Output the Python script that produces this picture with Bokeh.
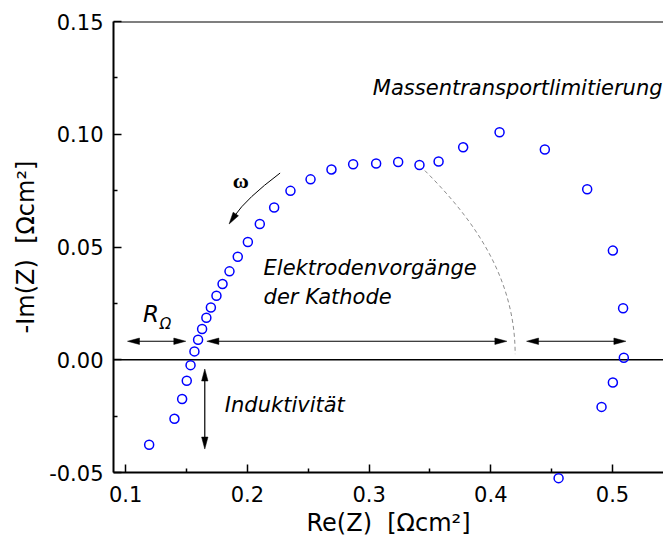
import numpy as np
from bokeh.plotting import figure
from bokeh.models import Span, FixedTicker, NumeralTickFormatter
from bokeh.core.properties import value
from bokeh.embed import file_html
from bokeh.resources import INLINE

# ---- data ----
re_z = [0.1193, 0.1401, 0.1464, 0.1502, 0.1533, 0.1565, 0.1595, 0.1628, 0.1663,
        0.1700, 0.1746, 0.1796, 0.1853, 0.1921, 0.2004, 0.2102, 0.2220, 0.2354,
        0.2519, 0.2691, 0.2869, 0.3058, 0.3239, 0.3414, 0.3571, 0.3773, 0.4072,
        0.4444, 0.4792, 0.5003, 0.5087, 0.5093, 0.5003, 0.4910, 0.4557]
neg_im_z = [-0.0377, -0.0262, -0.0174, -0.0093, -0.0024, 0.0037, 0.0089, 0.0136, 0.0186,
            0.0232, 0.0284, 0.0336, 0.0392, 0.0457, 0.0522, 0.0602, 0.0675, 0.0749,
            0.0800, 0.0844, 0.0867, 0.0870, 0.0877, 0.0864, 0.0879, 0.0942, 0.1009,
            0.0932, 0.0756, 0.0484, 0.0228, 0.0009, -0.0101, -0.0209, -0.0525]

x_ticks = [0.1, 0.2, 0.3, 0.4, 0.5]
x_minor = [0.15, 0.25, 0.35, 0.45]
y_ticks = [-0.05, 0.0, 0.05, 0.10, 0.15]
y_minor = [-0.025, 0.025, 0.075, 0.125]

# annotation geometry (data units)
arrow_y = 0.0082
r_ohm_arrow = (0.1015, 0.1494)
electrode_arrow = (0.1667, 0.4132)
mass_arrow = (0.4294, 0.5110)
induct_arrow_x = 0.1650
induct_arrow_y = (-0.0041, -0.0396)
# dashed guide (cubic bezier): start, ctrl1, ctrl2, end
fit_curve = [(0.3458, 0.0839), (0.3828, 0.0639), (0.4200, 0.0380), (0.4200, 0.0025)]
# omega arrow (quadratic): start, control, tip
omega_curve = [(0.2269, 0.0828), (0.1990, 0.0715), (0.1850, 0.0602)]

X0, X1 = 0.09, 0.5419
Y0, Y1 = -0.05, 0.15
W, H = 663, 545
ML, MR, MT, MB = 113, 0, 21, 73
SX = (W - ML - MR) / (X1 - X0)
SY = (H - MT - MB) / (Y1 - Y0)

FONT = "DejaVu Sans"

p = figure(width=W, height=H, x_range=(X0, X1), y_range=(Y0, Y1),
           output_backend="svg", toolbar_location=None,
           min_border_left=ML, min_border_right=MR, min_border_top=MT, min_border_bottom=MB)
p.grid.visible = False
p.outline_line_color = None
p.background_fill_color = "white"
p.border_fill_color = "white"

p.xaxis.ticker = FixedTicker(ticks=x_ticks, minor_ticks=x_minor)
p.yaxis.ticker = FixedTicker(ticks=y_ticks, minor_ticks=y_minor)
p.xaxis.formatter = NumeralTickFormatter(format="0.0")
p.yaxis.formatter = NumeralTickFormatter(format="0.00")
p.xaxis.axis_label = "Re(Z)\u00a0 [Ωcm²]"
p.yaxis.axis_label = "-Im(Z)\u00a0 [Ωcm²]"
for ax in (p.xaxis, p.yaxis):
    ax.axis_line_width = 2
    ax.axis_line_color = "black"
    ax.major_tick_line_width = 1.5
    ax.minor_tick_line_width = 1.5
    ax.major_tick_line_color = "black"
    ax.minor_tick_line_color = "black"
    ax.major_tick_in = 8
    ax.major_tick_out = 0
    ax.minor_tick_in = 4
    ax.minor_tick_out = 0
    ax.major_label_text_font = FONT
    ax.major_label_text_font_size = "21px"
    ax.major_label_text_color = "black"
    ax.axis_label_text_font = FONT
    ax.axis_label_text_font_size = "24px"
    ax.axis_label_text_font_style = "normal"
    ax.axis_label_text_color = "black"
p.yaxis.major_label_standoff = 10
p.xaxis.major_label_standoff = 13
p.xaxis.axis_label_standoff = 4
p.yaxis.axis_label_standoff = 6

# top frame line and zero line
p.add_layout(Span(location=Y1, dimension="width", line_color="black", line_width=2))
p.add_layout(Span(location=0.0, dimension="width", line_color="black", line_width=1.5))

# dashed guide curve
(a0, a1, a2, a3) = fit_curve
p.bezier(x0=[a0[0]], y0=[a0[1]], x1=[a3[0]], y1=[a3[1]], cx0=[a1[0]], cy0=[a1[1]],
         cx1=[a2[0]], cy1=[a2[1]], line_color="#8c8c8c", line_width=1, line_dash="4 3")

# data points
r = p.scatter(re_z, neg_im_z, marker="circle", size=9, fill_color=None,
              line_color="#0000ff", line_width=1.5)
r.level = "overlay"

# arrows
HL, HW = 12, 3.2  # head length / half width in px

def head(xt, yt, ux, uy):
    """triangle with tip at (xt, yt); (ux, uy) screen-direction unit vector (y down)."""
    bx, by = -ux * HL, -uy * HL
    nx, ny = -uy * HW, ux * HW
    xs = [xt, xt + (bx + nx) / SX, xt + (bx - nx) / SX]
    ys = [yt, yt - (by + ny) / SY, yt - (by - ny) / SY]
    return xs, ys

hx, hy = [], []
sx0, sy0, sx1, sy1 = [], [], [], []
for (xa, xb) in (r_ohm_arrow, electrode_arrow, mass_arrow):
    for xt, u in ((xa, -1.0), (xb, 1.0)):
        xs, ys = head(xt, arrow_y, u, 0.0)
        hx.append(xs); hy.append(ys)
    sx0.append(xa + HL / SX * 0.8); sx1.append(xb - HL / SX * 0.8)
    sy0.append(arrow_y); sy1.append(arrow_y)
ya, yb = induct_arrow_y
for yt, u in ((ya, -1.0), (yb, 1.0)):
    xs, ys = head(induct_arrow_x, yt, 0.0, u)
    hx.append(xs); hy.append(ys)
sx0.append(induct_arrow_x); sx1.append(induct_arrow_x)
sy0.append(ya - HL / SY * 0.8); sy1.append(yb + HL / SY * 0.8)

# omega arrow
(q0, qc, qt) = omega_curve
dxp = (qt[0] - qc[0]) * SX
dyp = -(qt[1] - qc[1]) * SY
nrm = (dxp ** 2 + dyp ** 2) ** 0.5
ux, uy = dxp / nrm, dyp / nrm
xs, ys = head(qt[0], qt[1], ux, uy)
hx.append(xs); hy.append(ys)
end_x = qt[0] - ux * HL * 0.8 / SX
end_y = qt[1] + uy * HL * 0.8 / SY
p.quadratic(x0=[q0[0]], y0=[q0[1]], x1=[end_x], y1=[end_y], cx=[qc[0]], cy=[qc[1]],
            line_color="black", line_width=1)

p.segment(sx0, sy0, sx1, sy1, line_color="black", line_width=1.2)
p.patches(hx, hy, fill_color="black", line_color="black", line_width=0.5)

# texts
def txt(x, y, s, size="21px", style="italic", font=FONT, align="left"):
    p.text([x], [y], text=[s], text_font=value(font), text_font_size=size,
           text_font_style=style, text_align=align, text_baseline="middle",
           text_color="black")

txt(0.3031, 0.1203, "Massentransportlimitierung")
txt(0.2133, 0.0405, "Elektrodenvorgänge")
txt(0.2133, 0.0280, "der Kathode")
txt(0.1815, -0.0201, "Induktivität")
txt(0.1142, 0.0203, "R", size="23px")
txt(0.1281, 0.0160, "Ω", size="15px")
txt(0.1946, 0.0797, "ω", size="22px", style="bold", font="Liberation Serif", align="center")

open("out.html", "w").write(file_html(p, INLINE))
